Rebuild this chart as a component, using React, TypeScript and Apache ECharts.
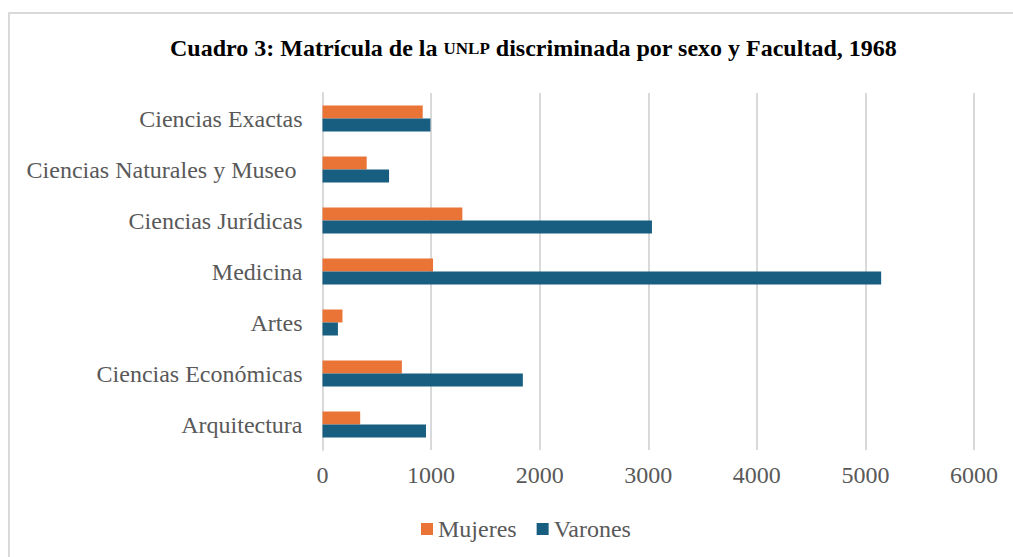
import React, { useEffect, useRef } from "react";
import * as echarts from "echarts";

const categories = [
  "Ciencias Exactas",
  "Ciencias Naturales y Museo ",
  "Ciencias Jurídicas",
  "Medicina",
  "Artes",
  "Ciencias Económicas",
  "Arquitectura",
];
const mujeres = [923, 407, 1288, 1018, 184, 731, 347];
const varones = [994, 613, 3034, 5145, 142, 1845, 953];
const xTicks = { min: 0, max: 6000, interval: 1000 };

const FONT = "'Liberation Serif', 'Times New Roman', serif";

export default function App() {
  const ref = useRef<HTMLDivElement>(null);
  useEffect(() => {
    if (!ref.current) return;
    const chart = echarts.init(ref.current, null, { renderer: "svg" });
    chart.setOption({
      animation: false,
      backgroundColor: "#ffffff",
      title: {
        left: 165,
        top: 31,
        text: "{b|Cuadro 3: Matrícula de la }{s|UNLP}{b| discriminada por sexo y Facultad, 1968}",
        textStyle: {
          rich: {
            b: { fontFamily: FONT, fontWeight: "bold", fontSize: 24, color: "#000000" },
            s: { fontFamily: FONT, fontWeight: "bold", fontSize: 17, color: "#000000" },
          },
        },
      },
      graphic: [
        {
          type: "rect",
          shape: { x: 9, y: 13, width: 1010, height: 550 },
          style: { fill: "none", stroke: "#d9d9d9", lineWidth: 2 },
          silent: true,
        },
      ],
      legend: {
        left: 416,
        top: 512,
        data: ["Mujeres", "Varones"],
        icon: "rect",
        itemWidth: 12,
        itemHeight: 12,
        itemGap: 20,
        textStyle: { fontFamily: FONT, fontSize: 24, color: "#595959" },
      },
      grid: { left: 322.5, right: 39, top: 93, bottom: 107, containLabel: false },
      xAxis: {
        type: "value",
        min: xTicks.min,
        max: xTicks.max,
        interval: xTicks.interval,
        axisLine: { show: false },
        axisTick: { show: false },
        splitLine: { lineStyle: { color: "#d9d9d9", width: 2 } },
        axisLabel: {
          fontFamily: FONT,
          fontSize: 24,
          color: "#595959",
          margin: 13,
          formatter: (v: number) => String(v),
        },
      },
      yAxis: {
        type: "category",
        inverse: true,
        data: categories,
        axisLine: { show: true, lineStyle: { color: "#d9d9d9", width: 2 } },
        axisTick: { show: false },
        axisLabel: { fontFamily: FONT, fontSize: 24, color: "#595959", margin: 20 },
      },
      series: [
        {
          name: "Mujeres",
          type: "bar",
          data: mujeres,
          barWidth: 13,
          barGap: "0%",
          itemStyle: { color: "#EA7436" },
        },
        {
          name: "Varones",
          type: "bar",
          data: varones,
          barWidth: 13,
          barGap: "0%",
          itemStyle: { color: "#175E80" },
        },
      ],
    });
    return () => chart.dispose();
  }, []);
  return (
    <div
      ref={ref}
      style={{ position: "fixed", left: 0, top: 0, width: 1013, height: 557 }}
    />
  );
}
